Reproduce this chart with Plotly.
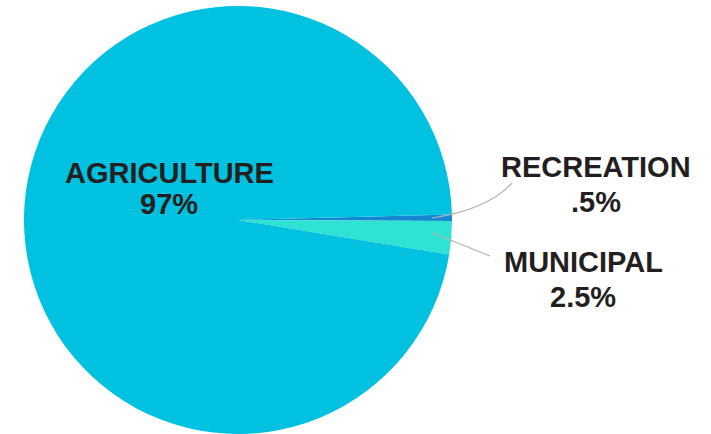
import plotly.graph_objects as go

# Water use by sector (percent)
sectors = ["RECREATION", "MUNICIPAL", "AGRICULTURE"]
shares = [0.5, 2.5, 97]
share_text = [".5%", "2.5%", "97%"]
colors = ["#1487d2", "#2ee3d3", "#00c2e0"]

W, H = 711, 434


def px(x, y):
    """Pixel position -> paper coordinates."""
    return x / W, 1 - y / H


fig = go.Figure(
    go.Pie(
        labels=sectors,
        values=shares,
        sort=False,
        direction="clockwise",
        rotation=88.5,
        marker=dict(colors=colors, line=dict(width=0)),
        textinfo="none",
        hoverinfo="label+percent",
        showlegend=False,
        domain=dict(x=[24 / W, 452 / W], y=[0, 428 / H]),
    )
)

label_font = dict(family="Liberation Sans, Arial, sans-serif", size=29, color="#231f20")

# (name line center-x, name cap-center-y, value cap-center-y)
label_pos = {
    "AGRICULTURE": (169, 172.5, 204.5),
    "RECREATION": (596, 167, 201.5),
    "MUNICIPAL": (583, 262, 296.5),
}

annotations = []
for name, txt in zip(sectors, share_text):
    cx, y1, y2 = label_pos[name]
    for line, yy in ((name, y1), (txt, y2)):
        x, y = px(cx, yy)
        annotations.append(
            dict(
                x=x, y=y, xref="paper", yref="paper",
                text=f"<b>{line}</b>", showarrow=False,
                xanchor="center", yanchor="middle",
                font=label_font,
            )
        )


def path_str(points, cmd):
    parts = []
    for c, pts in zip(cmd, points):
        parts.append(c + " " + " ".join(f"{px(*p)[0]:.5f},{px(*p)[1]:.5f}" for p in pts))
    return " ".join(parts)


shapes = [
    # leader to RECREATION (curved)
    dict(
        type="path", xref="paper", yref="paper",
        path=path_str([[(432, 218)], [(488, 209.5), (512, 183)]], ["M", "Q"]),
        line=dict(color="#b5b5b5", width=1.2),
    ),
    # leader to MUNICIPAL (straight)
    dict(
        type="line", xref="paper", yref="paper",
        x0=px(433, 233)[0], y0=px(433, 233)[1],
        x1=px(490, 256)[0], y1=px(490, 256)[1],
        line=dict(color="#b5b5b5", width=1.2),
    ),
]

fig.update_layout(
    width=W, height=H,
    margin=dict(l=0, r=0, t=0, b=0),
    paper_bgcolor="white", plot_bgcolor="white",
    annotations=annotations,
    shapes=shapes,
)

fig.write_html("out.html")
